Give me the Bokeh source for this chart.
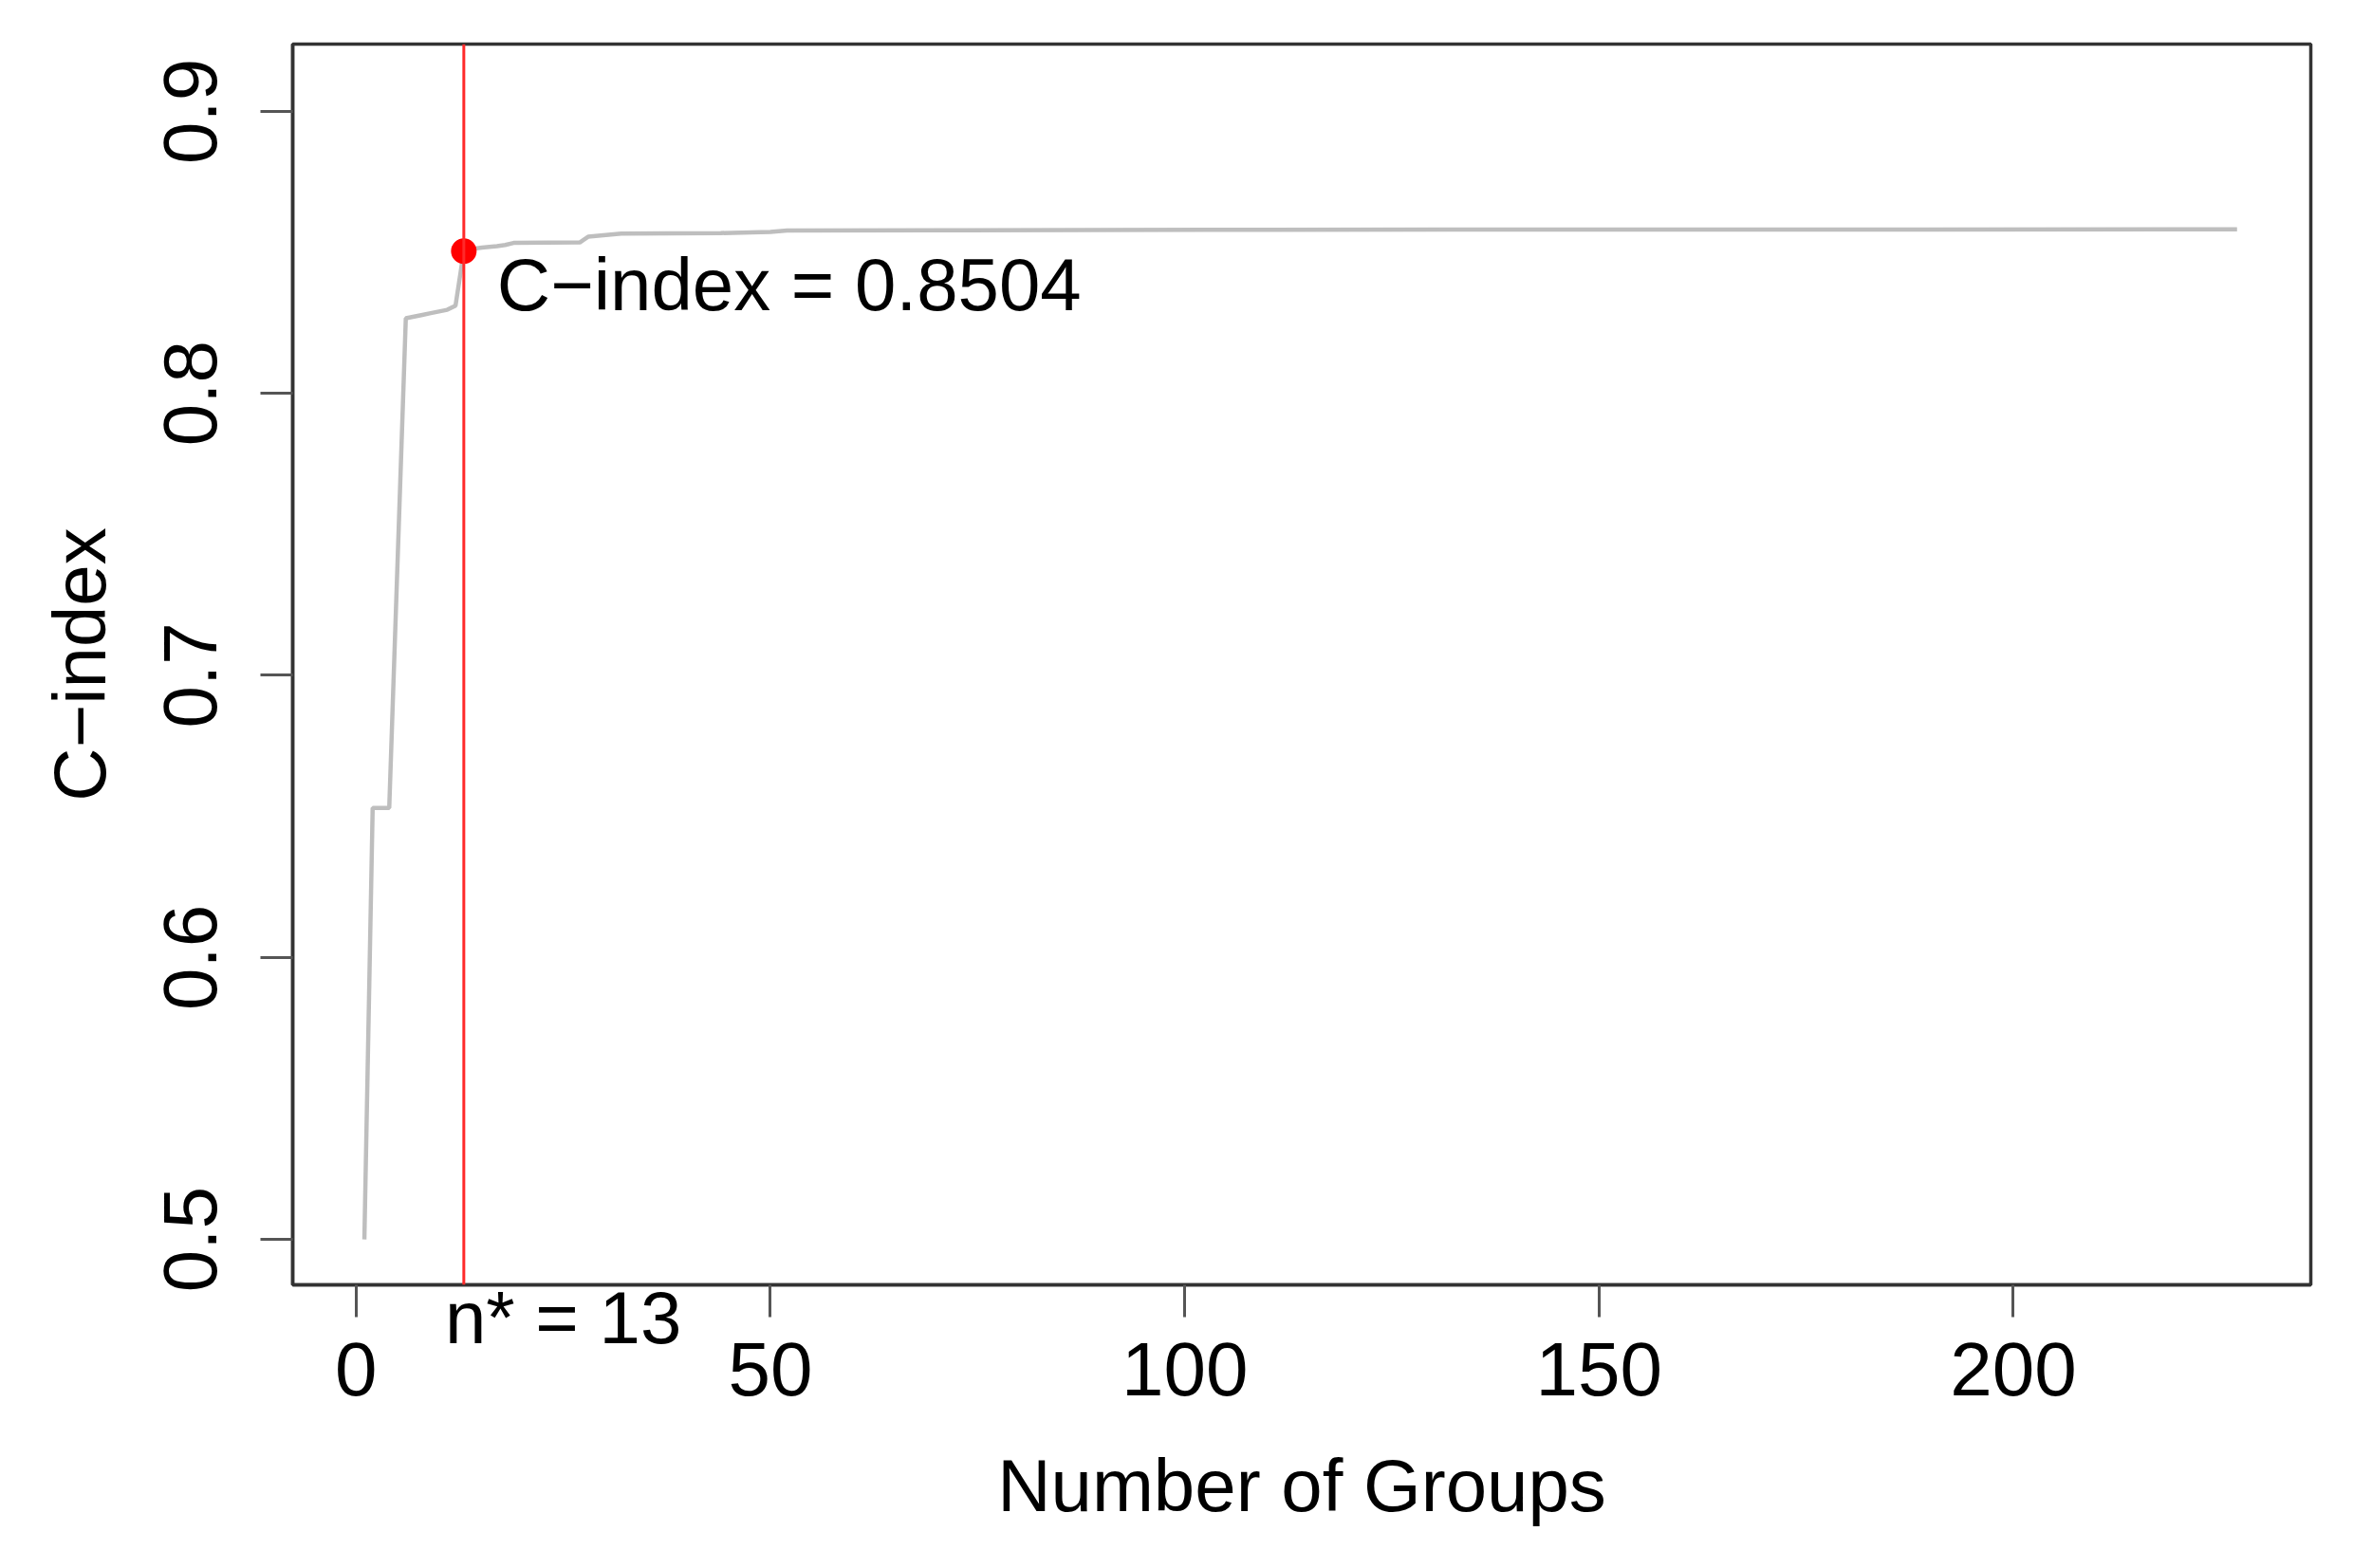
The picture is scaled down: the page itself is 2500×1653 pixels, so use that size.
from bokeh.plotting import figure
from bokeh.models import Range1d, Span, FixedTicker, LinearAxis
from bokeh.embed import file_html
from bokeh.resources import INLINE
from bokeh.core.properties import value

# ---- data ----
n_groups = [1, 2, 4, 6, 7, 8, 9, 10, 11, 12, 13, 14, 15, 17, 18, 19, 27, 28, 32, 44, 50, 52, 70, 110, 227]
c_index = [0.500, 0.653, 0.653, 0.8266, 0.8272, 0.8278, 0.8284, 0.8290, 0.8296, 0.8311,
           0.8504, 0.8512, 0.8516, 0.8522, 0.8526, 0.8533, 0.8535, 0.8555, 0.8566, 0.8568,
           0.8572, 0.8577, 0.8578, 0.8580, 0.8581]
n_star = 13
c_star = 0.8504
x_ticks = [0, 50, 100, 150, 200]
y_ticks = [0.5, 0.6, 0.7, 0.8, 0.9]

X_START, X_END = -7.65, 235.9
Y_START, Y_END = 0.4839, 0.9238
FONT = "Liberation Sans"

W, H = 2484, 1637
BL, BR, BT, BB = 308, 49, 46, 283

p = figure(width=W, height=H, output_backend="svg", toolbar_location=None,
           x_range=Range1d(X_START, X_END), y_range=Range1d(Y_START, Y_END),
           min_border_left=BL, min_border_right=BR, min_border_top=BT, min_border_bottom=BB,
           background_fill_color="white", border_fill_color="white")

p.grid.visible = False
p.outline_line_color = "#333333"
p.outline_line_width = 3.5

for ax in (p.xaxis[0], p.yaxis[0]):
    ax.axis_line_color = "#333333"
    ax.axis_line_width = 3.5
    ax.major_tick_line_color = "#555555"
    ax.major_tick_line_width = 3
    ax.major_tick_out = 34
    ax.major_tick_in = 0
    ax.minor_tick_line_color = None
    ax.major_label_text_font = FONT
    ax.major_label_text_font_size = "80px"
    ax.major_label_text_color = "black"
    ax.axis_label_text_font = FONT
    ax.axis_label_text_font_size = "78px"
    ax.axis_label_text_font_style = "normal"
    ax.axis_label_text_color = "black"

# y axis
p.yaxis.ticker = FixedTicker(ticks=y_ticks)
p.yaxis.major_label_overrides = {t: f"{t:.1f}" for t in y_ticks}
p.yaxis.major_label_orientation = "vertical"
p.yaxis.major_label_standoff = 46
p.yaxis.axis_label = "C\u2212index"
p.yaxis.axis_label_standoff = 43

# inner bottom axis: frame line, tick marks (as minor ticks) and the "n* = 13" note
n_label_at = n_star + 12
n_axis = LinearAxis(ticker=FixedTicker(ticks=[n_label_at], minor_ticks=x_ticks),
                    major_label_overrides={n_label_at: f"n* = {n_star}"})
n_axis.axis_line_color = "#333333"
n_axis.axis_line_width = 3.5
n_axis.major_tick_line_color = None
n_axis.major_tick_out = 0
n_axis.major_tick_in = 0
n_axis.minor_tick_line_color = "#555555"
n_axis.minor_tick_line_width = 3
n_axis.minor_tick_out = 34
n_axis.minor_tick_in = 0
n_axis.major_label_standoff = -44
n_axis.major_label_text_font = FONT
n_axis.major_label_text_font_size = "78px"
n_axis.major_label_text_color = "black"

# outer bottom axis: numeric tick labels and title
xa = p.xaxis[0]
xa.ticker = FixedTicker(ticks=x_ticks)
xa.major_label_overrides = {t: str(t) for t in x_ticks}
xa.axis_line_color = None
xa.major_tick_line_color = None
xa.major_tick_out = 0
xa.major_label_standoff = -20
xa.axis_label = "Number of Groups"
xa.axis_label_standoff = 48

p.below = [n_axis] + list(p.below)

# curve
p.line(n_groups, c_index, line_color="#BEBEBE", line_width=4.5)

# optimal n marker
p.add_layout(Span(location=n_star, dimension="height", line_color="#FF2A2A", line_width=3))
p.scatter([n_star], [c_star], size=27, color="#FF0000", line_color=None)
p.text([n_star], [c_star], text=[f"C\u2212index = {c_star:.4f}"], x_offset=35, y_offset=35,
       text_baseline="alphabetic", text_align="left", text_font=value(FONT),
       text_font_size="78px", text_color="black")

open("out.html", "w").write(file_html(p, INLINE))
